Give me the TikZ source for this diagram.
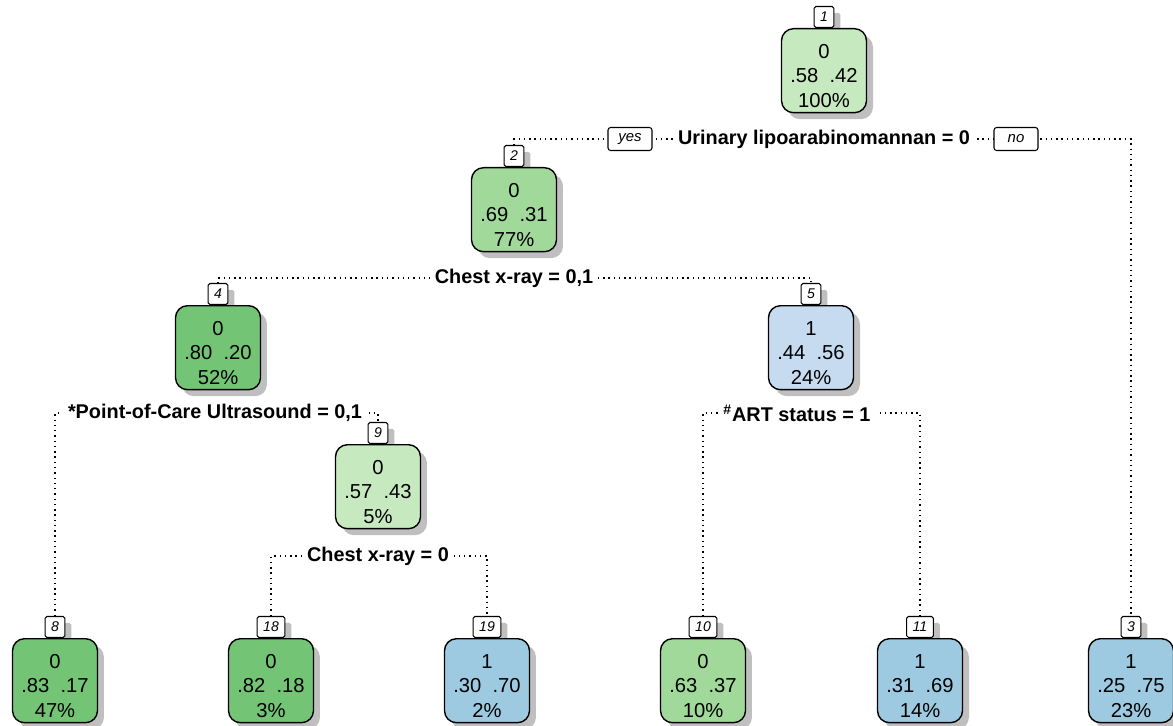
\documentclass[tikz,border=0pt]{standalone}
\usepackage{fontspec}
\setmainfont{Liberation Sans}
\usepackage{xcolor}
\definecolor{greenA}{HTML}{C7E9C0}
\definecolor{greenB}{HTML}{A1D99B}
\definecolor{greenC}{HTML}{74C476}
\definecolor{blueA}{HTML}{C6DBEF}
\definecolor{blueB}{HTML}{9ECAE1}
\usepackage{tikz}
\usetikzlibrary{positioning,shadows,backgrounds}
\newcommand{\fit}[4]{\rule{0pt}{14pt}#1\\#2\ \ #3\\#4\%}

\begin{document}
\begin{tikzpicture}[x=0.02cm, y=-0.02cm,
  box/.style={draw, line width=0.8pt, rounded corners=0.24cm, minimum width=1.7cm,
    minimum height=1.68cm, inner sep=1pt, align=center,
    font=\fontsize{11.5}{13.8}\selectfont,
    drop shadow={shadow xshift=0.13cm, shadow yshift=-0.13cm, fill=black!25, opacity=1}},
  numtag/.style={draw, fill=white, line width=0.6pt, rounded corners=1pt, anchor=south,
    minimum width=0.36cm, minimum height=0.42cm, inner xsep=0.12cm, inner ysep=0pt,
    font=\fontsize{8}{8}\selectfont\itshape,
    drop shadow={shadow xshift=0.13cm, shadow yshift=-0.13cm, fill=black!25, opacity=1}},
  split/.style={fill=white, inner xsep=3pt, inner ysep=1pt, font=\fontsize{11.3}{13}\selectfont\bfseries},
  yesno/.style={draw, fill=white, line width=0.6pt, rounded corners=1.5pt, minimum width=0.88cm,
    minimum height=0.46cm, inner sep=0pt, font=\fontsize{8.5}{9}\selectfont\itshape},
  branch/.style={line width=0.8pt, dash pattern=on 0.8pt off 2.2pt}]
  \useasboundingbox (0,0) rectangle (1173,726);

  \node[numtag] (t1) at (824,28) {1};
  \node[box, fill=greenA, below=0pt of t1] (n1) {\fit{0}{.58}{.42}{100}};
  \node[numtag] (t2) at (514,167) {2};
  \node[box, fill=greenB, below=0pt of t2] (n2) {\fit{0}{.69}{.31}{77}};
  \node[numtag] (t4) at (218,305) {4};
  \node[box, fill=greenC, below=0pt of t4] (n4) {\fit{0}{.80}{.20}{52}};
  \node[numtag] (t5) at (811,305) {5};
  \node[box, fill=blueA, below=0pt of t5] (n5) {\fit{1}{.44}{.56}{24}};
  \node[numtag] (t9) at (378,444) {9};
  \node[box, fill=greenA, below=0pt of t9] (n9) {\fit{0}{.57}{.43}{5}};

  \node[numtag] (t8) at (55,638) {8};
  \node[box, fill=greenC, below=0pt of t8] (n8) {\fit{0}{.83}{.17}{47}};
  \node[numtag] (t18) at (271,638) {18};
  \node[box, fill=greenC, below=0pt of t18] (n18) {\fit{0}{.82}{.18}{3}};
  \node[numtag] (t19) at (487,638) {19};
  \node[box, fill=blueB, below=0pt of t19] (n19) {\fit{1}{.30}{.70}{2}};
  \node[numtag] (t10) at (703,638) {10};
  \node[box, fill=greenB, below=0pt of t10] (n10) {\fit{0}{.63}{.37}{10}};
  \node[numtag] (t11) at (920,638) {11};
  \node[box, fill=blueB, below=0pt of t11] (n11) {\fit{1}{.31}{.69}{14}};
  \node[numtag] (t3) at (1131,638) {3};
  \node[box, fill=blueB, below=0pt of t3] (n3) {\fit{1}{.25}{.75}{23}};

  \node[split] (s1) at (824,139) {Urinary lipoarabinomannan = 0};
  \node[yesno] (yes) at (630,139) {yes};
  \node[yesno] (no) at (1016,139) {no};
  \node[split] (s2) at (514,278) {Chest x-ray = 0,1};
  \node[split] (s4) at (215,413) {*Point-of-Care Ultrasound = 0,1};
  \node[split] (s5) at (797,413) {\textsuperscript{\#}ART status = 1};
  \node[split] (s9) at (378,556) {Chest x-ray = 0};

  \begin{scope}[on background layer]
    \draw[branch] (t2.north) |- (t3.north |- s1.center) -- (t3.north);
    \draw[branch] (t4.north) |- (t5.north |- s2.center) -- (t5.north);
    \draw[branch] (t8.north) |- (t9.north |- s4.center) -- (t9.north);
    \draw[branch] (t10.north) |- (t11.north |- s5.center) -- (t11.north);
    \draw[branch] (t18.north) |- (t19.north |- s9.center) -- (t19.north);
  \end{scope}
\end{tikzpicture}
\end{document}
